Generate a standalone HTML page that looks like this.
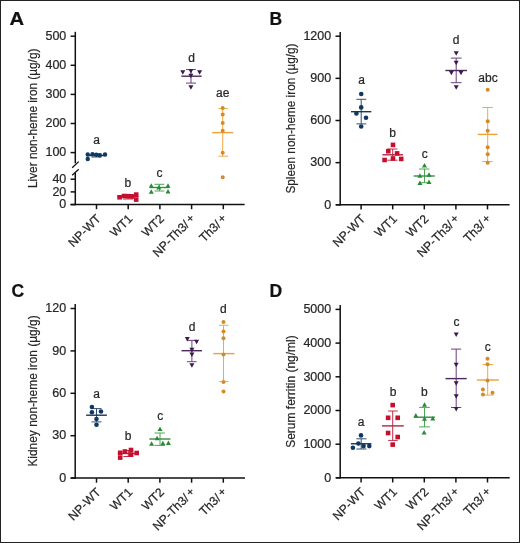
<!DOCTYPE html>
<html><head><meta charset="utf-8"><style>
html,body{margin:0;padding:0;background:#fff;}
body{width:520px;height:543px;overflow:hidden;font-family:"Liberation Sans",sans-serif;}
svg{display:block;will-change:transform;}
text{stroke:#262626;stroke-width:0.22px;paint-order:stroke;}
</style></head><body>
<svg width="520" height="543" viewBox="0 0 520 543" font-family="Liberation Sans, sans-serif">
<rect x="0" y="0" width="520" height="543" fill="#fff"/>
<rect x="0.5" y="0.5" width="519" height="542" fill="none" stroke="#222" stroke-width="1"/>
<text x="9.6" y="24.6" font-size="17.5" font-weight="bold" fill="#111" textLength="14.6" lengthAdjust="spacingAndGlyphs">A</text>
<text x="269.5" y="24.6" font-size="17.5" font-weight="bold" fill="#111">B</text>
<text x="11.5" y="297.2" font-size="17.5" font-weight="bold" fill="#111">C</text>
<text x="269.5" y="297.2" font-size="17.5" font-weight="bold" fill="#111">D</text>
<line x1="75.30" y1="31.80" x2="75.30" y2="163.30" stroke="#111" stroke-width="1.5"/>
<line x1="75.30" y1="172.70" x2="75.30" y2="205.30" stroke="#111" stroke-width="1.5"/>
<line x1="72.20" y1="167.80" x2="78.70" y2="161.60" stroke="#111" stroke-width="1.3"/>
<line x1="72.20" y1="175.20" x2="78.70" y2="169.30" stroke="#111" stroke-width="1.3"/>
<line x1="70.60" y1="36.20" x2="75.30" y2="36.20" stroke="#111" stroke-width="1.5"/>
<text x="66.30" y="39.90" font-size="12.5" text-anchor="end" fill="#262626" >500</text>
<line x1="70.60" y1="65.30" x2="75.30" y2="65.30" stroke="#111" stroke-width="1.5"/>
<text x="66.30" y="69.00" font-size="12.5" text-anchor="end" fill="#262626" >400</text>
<line x1="70.60" y1="94.40" x2="75.30" y2="94.40" stroke="#111" stroke-width="1.5"/>
<text x="66.30" y="98.10" font-size="12.5" text-anchor="end" fill="#262626" >300</text>
<line x1="70.60" y1="123.50" x2="75.30" y2="123.50" stroke="#111" stroke-width="1.5"/>
<text x="66.30" y="127.20" font-size="12.5" text-anchor="end" fill="#262626" >200</text>
<line x1="70.60" y1="152.60" x2="75.30" y2="152.60" stroke="#111" stroke-width="1.5"/>
<text x="66.30" y="156.30" font-size="12.5" text-anchor="end" fill="#262626" >100</text>
<line x1="70.60" y1="179.20" x2="75.30" y2="179.20" stroke="#111" stroke-width="1.5"/>
<text x="66.30" y="182.90" font-size="12.5" text-anchor="end" fill="#262626" >40</text>
<line x1="70.60" y1="191.90" x2="75.30" y2="191.90" stroke="#111" stroke-width="1.5"/>
<text x="66.30" y="195.60" font-size="12.5" text-anchor="end" fill="#262626" >20</text>
<line x1="70.60" y1="204.60" x2="75.30" y2="204.60" stroke="#111" stroke-width="1.5"/>
<text x="66.30" y="208.30" font-size="12.5" text-anchor="end" fill="#262626" >0</text>
<line x1="70.60" y1="204.60" x2="244.60" y2="204.60" stroke="#111" stroke-width="1.5"/>
<line x1="96.50" y1="204.60" x2="96.50" y2="209.20" stroke="#111" stroke-width="1.5"/>
<line x1="128.20" y1="204.60" x2="128.20" y2="209.20" stroke="#111" stroke-width="1.5"/>
<line x1="159.90" y1="204.60" x2="159.90" y2="209.20" stroke="#111" stroke-width="1.5"/>
<line x1="191.60" y1="204.60" x2="191.60" y2="209.20" stroke="#111" stroke-width="1.5"/>
<line x1="223.30" y1="204.60" x2="223.30" y2="209.20" stroke="#111" stroke-width="1.5"/>
<text class="xl" x="0" y="0" font-size="12.2" text-anchor="end" fill="#262626" transform="translate(101.50,219.40) rotate(-45)">NP-WT</text>
<text class="xl" x="0" y="0" font-size="12.2" text-anchor="end" fill="#262626" transform="translate(133.20,219.40) rotate(-45)">WT1</text>
<text class="xl" x="0" y="0" font-size="12.2" text-anchor="end" fill="#262626" transform="translate(164.90,219.40) rotate(-45)">WT2</text>
<text class="xl" x="0" y="0" font-size="12.2" text-anchor="end" fill="#262626" transform="translate(196.00,219.40) rotate(-45)">NP-Th3/<tspan font-size="11.5" dx="2.0" dy="-1.0">+</tspan></text>
<text class="xl" x="0" y="0" font-size="12.2" text-anchor="end" fill="#262626" transform="translate(227.70,219.40) rotate(-45)">Th3/<tspan font-size="11.5" dx="2.0" dy="-1.0">+</tspan></text>
<text class="yl" x="0" y="0" font-size="13.5" text-anchor="middle" fill="#262626" textLength="139.4" lengthAdjust="spacingAndGlyphs" transform="translate(36.90,118.30) rotate(-90)">Liver non-heme iron (µg/g)</text>
<line x1="96.50" y1="154.00" x2="96.50" y2="157.00" stroke="#34506e" stroke-width="1.0"/>
<line x1="91.50" y1="154.00" x2="101.50" y2="154.00" stroke="#34506e" stroke-width="1.0"/>
<line x1="91.50" y1="157.00" x2="101.50" y2="157.00" stroke="#34506e" stroke-width="1.0"/>
<line x1="86.50" y1="155.50" x2="106.50" y2="155.50" stroke="#1f3550" stroke-width="1.4"/>
<circle cx="87.75" cy="154.50" r="2.2" fill="#113863"/>
<circle cx="87.75" cy="159.00" r="2.2" fill="#113863"/>
<circle cx="92.50" cy="154.20" r="2.2" fill="#113863"/>
<circle cx="96.30" cy="154.80" r="2.2" fill="#113863"/>
<circle cx="99.80" cy="155.20" r="2.2" fill="#113863"/>
<circle cx="105.00" cy="154.50" r="2.2" fill="#113863"/>
<line x1="128.00" y1="194.50" x2="128.00" y2="199.00" stroke="#c42a4a" stroke-width="1.0"/>
<line x1="123.00" y1="194.50" x2="133.00" y2="194.50" stroke="#c42a4a" stroke-width="1.0"/>
<line x1="123.00" y1="199.00" x2="133.00" y2="199.00" stroke="#c42a4a" stroke-width="1.0"/>
<line x1="117.50" y1="196.50" x2="138.50" y2="196.50" stroke="#a82a44" stroke-width="1.4"/>
<rect x="117.30" y="195.00" width="4.6" height="4.6" fill="#c60f2e"/>
<rect x="121.70" y="193.70" width="4.6" height="4.6" fill="#c60f2e"/>
<rect x="125.70" y="193.90" width="4.6" height="4.6" fill="#c60f2e"/>
<rect x="129.70" y="194.20" width="4.6" height="4.6" fill="#c60f2e"/>
<rect x="133.90" y="192.30" width="4.6" height="4.6" fill="#c60f2e"/>
<rect x="133.90" y="197.30" width="4.6" height="4.6" fill="#c60f2e"/>
<line x1="159.50" y1="184.30" x2="159.50" y2="191.00" stroke="#4aa852" stroke-width="1.0"/>
<line x1="154.50" y1="184.30" x2="164.30" y2="184.30" stroke="#4aa852" stroke-width="1.0"/>
<line x1="154.50" y1="191.00" x2="164.30" y2="191.00" stroke="#4aa852" stroke-width="1.0"/>
<line x1="149.90" y1="187.50" x2="169.20" y2="187.50" stroke="#3c8a46" stroke-width="1.4"/>
<path d="M148.80,187.85L153.80,187.85L151.30,183.35Z" fill="#2a8a38"/>
<path d="M148.80,193.65L153.80,193.65L151.30,189.15Z" fill="#2a8a38"/>
<path d="M156.30,189.45L161.30,189.45L158.80,184.95Z" fill="#2a8a38"/>
<path d="M165.50,187.85L170.50,187.85L168.00,183.35Z" fill="#2a8a38"/>
<path d="M165.50,193.45L170.50,193.45L168.00,188.95Z" fill="#2a8a38"/>
<line x1="191.00" y1="69.60" x2="191.00" y2="83.10" stroke="#6a3f7c" stroke-width="1.0"/>
<line x1="186.00" y1="69.60" x2="196.00" y2="69.60" stroke="#6a3f7c" stroke-width="1.0"/>
<line x1="186.00" y1="83.10" x2="196.00" y2="83.10" stroke="#6a3f7c" stroke-width="1.0"/>
<line x1="181.40" y1="76.20" x2="201.60" y2="76.20" stroke="#4a2a5a" stroke-width="1.4"/>
<path d="M180.30,70.35L185.30,70.35L182.80,74.85Z" fill="#3a1b4b"/>
<path d="M188.40,68.95L193.40,68.95L190.90,73.45Z" fill="#3a1b4b"/>
<path d="M197.10,70.35L202.10,70.35L199.60,74.85Z" fill="#3a1b4b"/>
<path d="M188.40,73.75L193.40,73.75L190.90,78.25Z" fill="#3a1b4b"/>
<path d="M188.40,85.15L193.40,85.15L190.90,89.65Z" fill="#3a1b4b"/>
<line x1="222.70" y1="108.60" x2="222.70" y2="156.20" stroke="#f3a847" stroke-width="1.0"/>
<line x1="218.40" y1="108.60" x2="228.00" y2="108.60" stroke="#f3a847" stroke-width="1.0"/>
<line x1="218.40" y1="156.20" x2="228.00" y2="156.20" stroke="#f3a847" stroke-width="1.0"/>
<line x1="212.20" y1="132.60" x2="233.20" y2="132.60" stroke="#eea03a" stroke-width="1.4"/>
<circle cx="222.70" cy="108.00" r="2.0" fill="#d48a28"/>
<circle cx="222.70" cy="114.60" r="2.0" fill="#d48a28"/>
<circle cx="222.70" cy="123.00" r="2.0" fill="#d48a28"/>
<circle cx="222.70" cy="130.80" r="2.0" fill="#d48a28"/>
<circle cx="222.70" cy="152.70" r="2.0" fill="#d48a28"/>
<circle cx="222.70" cy="177.20" r="2.0" fill="#d48a28"/>
<text x="96.50" y="144.40" font-size="12" text-anchor="middle" fill="#262626" >a</text>
<text x="127.80" y="187.40" font-size="12" text-anchor="middle" fill="#262626" >b</text>
<text x="159.50" y="177.30" font-size="12" text-anchor="middle" fill="#262626" >c</text>
<text x="191.50" y="61.80" font-size="12" text-anchor="middle" fill="#262626" >d</text>
<text x="222.80" y="97.40" font-size="12" text-anchor="middle" fill="#262626" >ae</text>
<line x1="340.20" y1="31.90" x2="340.20" y2="205.50" stroke="#111" stroke-width="1.5"/>
<line x1="335.50" y1="36.20" x2="340.20" y2="36.20" stroke="#111" stroke-width="1.5"/>
<text x="331.20" y="39.90" font-size="12.5" text-anchor="end" fill="#262626" >1200</text>
<line x1="335.50" y1="78.35" x2="340.20" y2="78.35" stroke="#111" stroke-width="1.5"/>
<text x="331.20" y="82.05" font-size="12.5" text-anchor="end" fill="#262626" >900</text>
<line x1="335.50" y1="120.50" x2="340.20" y2="120.50" stroke="#111" stroke-width="1.5"/>
<text x="331.20" y="124.20" font-size="12.5" text-anchor="end" fill="#262626" >600</text>
<line x1="335.50" y1="162.65" x2="340.20" y2="162.65" stroke="#111" stroke-width="1.5"/>
<text x="331.20" y="166.35" font-size="12.5" text-anchor="end" fill="#262626" >300</text>
<line x1="335.50" y1="204.80" x2="340.20" y2="204.80" stroke="#111" stroke-width="1.5"/>
<text x="331.20" y="208.50" font-size="12.5" text-anchor="end" fill="#262626" >0</text>
<line x1="336.00" y1="204.80" x2="509.60" y2="204.80" stroke="#111" stroke-width="1.5"/>
<line x1="361.10" y1="204.80" x2="361.10" y2="209.40" stroke="#111" stroke-width="1.5"/>
<line x1="392.70" y1="204.80" x2="392.70" y2="209.40" stroke="#111" stroke-width="1.5"/>
<line x1="424.30" y1="204.80" x2="424.30" y2="209.40" stroke="#111" stroke-width="1.5"/>
<line x1="455.90" y1="204.80" x2="455.90" y2="209.40" stroke="#111" stroke-width="1.5"/>
<line x1="487.50" y1="204.80" x2="487.50" y2="209.40" stroke="#111" stroke-width="1.5"/>
<text class="xl" x="0" y="0" font-size="12.2" text-anchor="end" fill="#262626" transform="translate(366.10,219.60) rotate(-45)">NP-WT</text>
<text class="xl" x="0" y="0" font-size="12.2" text-anchor="end" fill="#262626" transform="translate(397.70,219.60) rotate(-45)">WT1</text>
<text class="xl" x="0" y="0" font-size="12.2" text-anchor="end" fill="#262626" transform="translate(429.30,219.60) rotate(-45)">WT2</text>
<text class="xl" x="0" y="0" font-size="12.2" text-anchor="end" fill="#262626" transform="translate(460.30,219.60) rotate(-45)">NP-Th3/<tspan font-size="11.5" dx="2.0" dy="-1.0">+</tspan></text>
<text class="xl" x="0" y="0" font-size="12.2" text-anchor="end" fill="#262626" transform="translate(491.90,219.60) rotate(-45)">Th3/<tspan font-size="11.5" dx="2.0" dy="-1.0">+</tspan></text>
<text class="yl" x="0" y="0" font-size="13.5" text-anchor="middle" fill="#262626" textLength="150.1" lengthAdjust="spacingAndGlyphs" transform="translate(295.20,118.55) rotate(-90)">Spleen non-heme iron (µg/g)</text>
<line x1="361.20" y1="99.30" x2="361.20" y2="123.90" stroke="#34506e" stroke-width="1.0"/>
<line x1="356.40" y1="99.30" x2="366.30" y2="99.30" stroke="#34506e" stroke-width="1.0"/>
<line x1="356.40" y1="123.90" x2="366.30" y2="123.90" stroke="#34506e" stroke-width="1.0"/>
<line x1="351.00" y1="111.70" x2="371.30" y2="111.70" stroke="#1f3550" stroke-width="1.4"/>
<circle cx="361.20" cy="94.00" r="2.3" fill="#113863"/>
<circle cx="361.20" cy="107.40" r="2.3" fill="#113863"/>
<circle cx="356.40" cy="113.40" r="2.3" fill="#113863"/>
<circle cx="366.00" cy="117.70" r="2.3" fill="#113863"/>
<circle cx="361.20" cy="126.50" r="2.3" fill="#113863"/>
<line x1="392.70" y1="149.00" x2="392.70" y2="160.20" stroke="#c42a4a" stroke-width="1.0"/>
<line x1="387.20" y1="149.00" x2="397.50" y2="149.00" stroke="#c42a4a" stroke-width="1.0"/>
<line x1="387.20" y1="160.20" x2="397.50" y2="160.20" stroke="#c42a4a" stroke-width="1.0"/>
<line x1="382.40" y1="154.80" x2="403.00" y2="154.80" stroke="#a82a44" stroke-width="1.4"/>
<rect x="390.70" y="142.60" width="4.6" height="4.6" fill="#c60f2e"/>
<rect x="386.00" y="148.90" width="4.6" height="4.6" fill="#c60f2e"/>
<rect x="394.80" y="151.10" width="4.6" height="4.6" fill="#c60f2e"/>
<rect x="382.30" y="157.70" width="4.6" height="4.6" fill="#c60f2e"/>
<rect x="390.70" y="156.20" width="4.6" height="4.6" fill="#c60f2e"/>
<rect x="398.90" y="156.60" width="4.6" height="4.6" fill="#c60f2e"/>
<line x1="424.50" y1="169.00" x2="424.50" y2="182.70" stroke="#4aa852" stroke-width="1.0"/>
<line x1="419.10" y1="169.00" x2="429.40" y2="169.00" stroke="#4aa852" stroke-width="1.0"/>
<line x1="419.10" y1="182.70" x2="429.40" y2="182.70" stroke="#4aa852" stroke-width="1.0"/>
<line x1="413.70" y1="176.00" x2="434.80" y2="176.00" stroke="#3c8a46" stroke-width="1.4"/>
<path d="M422.00,167.55L427.00,167.55L424.50,163.05Z" fill="#2a8a38"/>
<path d="M417.40,177.85L422.40,177.85L419.90,173.35Z" fill="#2a8a38"/>
<path d="M426.50,176.65L431.50,176.65L429.00,172.15Z" fill="#2a8a38"/>
<path d="M417.40,184.95L422.40,184.95L419.90,180.45Z" fill="#2a8a38"/>
<path d="M426.50,184.05L431.50,184.05L429.00,179.55Z" fill="#2a8a38"/>
<line x1="456.20" y1="58.10" x2="456.20" y2="82.70" stroke="#6a3f7c" stroke-width="1.0"/>
<line x1="450.80" y1="58.10" x2="461.60" y2="58.10" stroke="#6a3f7c" stroke-width="1.0"/>
<line x1="450.80" y1="82.70" x2="461.60" y2="82.70" stroke="#6a3f7c" stroke-width="1.0"/>
<line x1="445.40" y1="70.50" x2="467.00" y2="70.50" stroke="#4a2a5a" stroke-width="1.4"/>
<path d="M453.70,51.15L458.70,51.15L456.20,55.65Z" fill="#3a1b4b"/>
<path d="M453.70,60.65L458.70,60.65L456.20,65.15Z" fill="#3a1b4b"/>
<path d="M448.90,70.85L453.90,70.85L451.40,75.35Z" fill="#3a1b4b"/>
<path d="M458.50,70.85L463.50,70.85L461.00,75.35Z" fill="#3a1b4b"/>
<path d="M453.70,85.25L458.70,85.25L456.20,89.75Z" fill="#3a1b4b"/>
<line x1="487.70" y1="107.50" x2="487.70" y2="161.60" stroke="#f3a847" stroke-width="1.0"/>
<line x1="482.20" y1="107.50" x2="492.80" y2="107.50" stroke="#f3a847" stroke-width="1.0"/>
<line x1="482.20" y1="161.60" x2="492.80" y2="161.60" stroke="#f3a847" stroke-width="1.0"/>
<line x1="477.70" y1="134.40" x2="497.60" y2="134.40" stroke="#eea03a" stroke-width="1.4"/>
<circle cx="487.70" cy="89.80" r="2.0" fill="#d48a28"/>
<circle cx="487.70" cy="121.20" r="2.0" fill="#d48a28"/>
<circle cx="487.70" cy="130.70" r="2.0" fill="#d48a28"/>
<circle cx="487.70" cy="147.20" r="2.0" fill="#d48a28"/>
<circle cx="487.70" cy="154.30" r="2.0" fill="#d48a28"/>
<circle cx="487.70" cy="162.70" r="2.0" fill="#d48a28"/>
<text x="361.50" y="84.40" font-size="12" text-anchor="middle" fill="#262626" >a</text>
<text x="392.60" y="137.00" font-size="12" text-anchor="middle" fill="#262626" >b</text>
<text x="424.70" y="158.00" font-size="12" text-anchor="middle" fill="#262626" >c</text>
<text x="456.20" y="43.80" font-size="12" text-anchor="middle" fill="#262626" >d</text>
<text x="488.00" y="81.60" font-size="12" text-anchor="middle" fill="#262626" >abc</text>
<line x1="75.20" y1="304.00" x2="75.20" y2="478.80" stroke="#111" stroke-width="1.5"/>
<line x1="70.50" y1="308.50" x2="75.20" y2="308.50" stroke="#111" stroke-width="1.5"/>
<text x="66.20" y="312.20" font-size="12.5" text-anchor="end" fill="#262626" >120</text>
<line x1="70.50" y1="350.90" x2="75.20" y2="350.90" stroke="#111" stroke-width="1.5"/>
<text x="66.20" y="354.60" font-size="12.5" text-anchor="end" fill="#262626" >90</text>
<line x1="70.50" y1="393.30" x2="75.20" y2="393.30" stroke="#111" stroke-width="1.5"/>
<text x="66.20" y="397.00" font-size="12.5" text-anchor="end" fill="#262626" >60</text>
<line x1="70.50" y1="435.70" x2="75.20" y2="435.70" stroke="#111" stroke-width="1.5"/>
<text x="66.20" y="439.40" font-size="12.5" text-anchor="end" fill="#262626" >30</text>
<line x1="70.50" y1="478.10" x2="75.20" y2="478.10" stroke="#111" stroke-width="1.5"/>
<text x="66.20" y="481.80" font-size="12.5" text-anchor="end" fill="#262626" >0</text>
<line x1="70.80" y1="478.10" x2="245.00" y2="478.10" stroke="#111" stroke-width="1.5"/>
<line x1="96.50" y1="478.10" x2="96.50" y2="482.70" stroke="#111" stroke-width="1.5"/>
<line x1="128.20" y1="478.10" x2="128.20" y2="482.70" stroke="#111" stroke-width="1.5"/>
<line x1="159.90" y1="478.10" x2="159.90" y2="482.70" stroke="#111" stroke-width="1.5"/>
<line x1="191.60" y1="478.10" x2="191.60" y2="482.70" stroke="#111" stroke-width="1.5"/>
<line x1="223.30" y1="478.10" x2="223.30" y2="482.70" stroke="#111" stroke-width="1.5"/>
<text class="xl" x="0" y="0" font-size="12.2" text-anchor="end" fill="#262626" transform="translate(101.50,492.90) rotate(-45)">NP-WT</text>
<text class="xl" x="0" y="0" font-size="12.2" text-anchor="end" fill="#262626" transform="translate(133.20,492.90) rotate(-45)">WT1</text>
<text class="xl" x="0" y="0" font-size="12.2" text-anchor="end" fill="#262626" transform="translate(164.90,492.90) rotate(-45)">WT2</text>
<text class="xl" x="0" y="0" font-size="12.2" text-anchor="end" fill="#262626" transform="translate(196.00,492.90) rotate(-45)">NP-Th3/<tspan font-size="11.5" dx="2.0" dy="-1.0">+</tspan></text>
<text class="xl" x="0" y="0" font-size="12.2" text-anchor="end" fill="#262626" transform="translate(227.70,492.90) rotate(-45)">Th3/<tspan font-size="11.5" dx="2.0" dy="-1.0">+</tspan></text>
<text class="yl" x="0" y="0" font-size="13.5" text-anchor="middle" fill="#262626" textLength="151.2" lengthAdjust="spacingAndGlyphs" transform="translate(36.90,391.00) rotate(-90)">Kidney non-heme iron (µg/g)</text>
<line x1="96.50" y1="408.60" x2="96.50" y2="421.90" stroke="#34506e" stroke-width="1.0"/>
<line x1="91.50" y1="408.60" x2="101.50" y2="408.60" stroke="#34506e" stroke-width="1.0"/>
<line x1="91.50" y1="421.90" x2="101.50" y2="421.90" stroke="#34506e" stroke-width="1.0"/>
<line x1="86.10" y1="415.20" x2="106.90" y2="415.20" stroke="#1f3550" stroke-width="1.4"/>
<circle cx="91.90" cy="407.00" r="2.3" fill="#113863"/>
<circle cx="91.90" cy="412.30" r="2.3" fill="#113863"/>
<circle cx="101.00" cy="411.50" r="2.3" fill="#113863"/>
<circle cx="96.50" cy="419.00" r="2.3" fill="#113863"/>
<circle cx="96.50" cy="424.80" r="2.3" fill="#113863"/>
<line x1="128.30" y1="450.50" x2="128.30" y2="456.50" stroke="#c42a4a" stroke-width="1.0"/>
<line x1="123.30" y1="450.50" x2="133.30" y2="450.50" stroke="#c42a4a" stroke-width="1.0"/>
<line x1="123.30" y1="456.50" x2="133.30" y2="456.50" stroke="#c42a4a" stroke-width="1.0"/>
<line x1="117.80" y1="453.50" x2="138.80" y2="453.50" stroke="#a82a44" stroke-width="1.4"/>
<rect x="117.90" y="450.50" width="4.6" height="4.6" fill="#c60f2e"/>
<rect x="117.90" y="455.30" width="4.6" height="4.6" fill="#c60f2e"/>
<rect x="122.60" y="449.20" width="4.6" height="4.6" fill="#c60f2e"/>
<rect x="128.70" y="447.70" width="4.6" height="4.6" fill="#c60f2e"/>
<rect x="128.70" y="452.30" width="4.6" height="4.6" fill="#c60f2e"/>
<rect x="134.40" y="450.70" width="4.6" height="4.6" fill="#c60f2e"/>
<line x1="160.00" y1="433.00" x2="160.00" y2="445.40" stroke="#4aa852" stroke-width="1.0"/>
<line x1="154.50" y1="433.00" x2="164.90" y2="433.00" stroke="#4aa852" stroke-width="1.0"/>
<line x1="154.50" y1="445.40" x2="164.90" y2="445.40" stroke="#4aa852" stroke-width="1.0"/>
<line x1="149.30" y1="439.00" x2="170.40" y2="439.00" stroke="#3c8a46" stroke-width="1.4"/>
<path d="M157.50,430.95L162.50,430.95L160.00,426.45Z" fill="#2a8a38"/>
<path d="M154.60,440.15L159.60,440.15L157.10,435.65Z" fill="#2a8a38"/>
<path d="M149.10,445.65L154.10,445.65L151.60,441.15Z" fill="#2a8a38"/>
<path d="M160.40,445.35L165.40,445.35L162.90,440.85Z" fill="#2a8a38"/>
<path d="M165.90,445.05L170.90,445.05L168.40,440.55Z" fill="#2a8a38"/>
<line x1="191.90" y1="340.40" x2="191.90" y2="361.70" stroke="#6a3f7c" stroke-width="1.0"/>
<line x1="186.90" y1="340.40" x2="196.60" y2="340.40" stroke="#6a3f7c" stroke-width="1.0"/>
<line x1="186.90" y1="361.70" x2="196.60" y2="361.70" stroke="#6a3f7c" stroke-width="1.0"/>
<line x1="181.50" y1="350.70" x2="202.00" y2="350.70" stroke="#4a2a5a" stroke-width="1.4"/>
<path d="M184.80,337.05L189.80,337.05L187.30,341.55Z" fill="#3a1b4b"/>
<path d="M194.10,339.75L199.10,339.75L196.60,344.25Z" fill="#3a1b4b"/>
<path d="M189.40,347.75L194.40,347.75L191.90,352.25Z" fill="#3a1b4b"/>
<path d="M189.40,352.45L194.40,352.45L191.90,356.95Z" fill="#3a1b4b"/>
<path d="M189.40,363.35L194.40,363.35L191.90,367.85Z" fill="#3a1b4b"/>
<line x1="223.50" y1="325.30" x2="223.50" y2="381.60" stroke="#f3a847" stroke-width="1.0"/>
<line x1="219.00" y1="325.30" x2="228.60" y2="325.30" stroke="#f3a847" stroke-width="1.0"/>
<line x1="219.00" y1="381.60" x2="228.60" y2="381.60" stroke="#f3a847" stroke-width="1.0"/>
<line x1="213.20" y1="353.60" x2="234.50" y2="353.60" stroke="#eea03a" stroke-width="1.4"/>
<circle cx="223.50" cy="322.10" r="2.0" fill="#d48a28"/>
<circle cx="223.50" cy="331.50" r="2.0" fill="#d48a28"/>
<circle cx="223.50" cy="338.30" r="2.0" fill="#d48a28"/>
<circle cx="223.50" cy="354.50" r="2.0" fill="#d48a28"/>
<circle cx="223.50" cy="382.00" r="2.0" fill="#d48a28"/>
<circle cx="223.50" cy="391.60" r="2.0" fill="#d48a28"/>
<text x="96.70" y="398.00" font-size="12" text-anchor="middle" fill="#262626" >a</text>
<text x="128.10" y="440.40" font-size="12" text-anchor="middle" fill="#262626" >b</text>
<text x="160.30" y="420.00" font-size="12" text-anchor="middle" fill="#262626" >c</text>
<text x="192.00" y="331.10" font-size="12" text-anchor="middle" fill="#262626" >d</text>
<text x="223.30" y="313.30" font-size="12" text-anchor="middle" fill="#262626" >d</text>
<line x1="340.20" y1="305.00" x2="340.20" y2="478.50" stroke="#111" stroke-width="1.5"/>
<line x1="335.50" y1="309.40" x2="340.20" y2="309.40" stroke="#111" stroke-width="1.5"/>
<text x="331.20" y="313.10" font-size="12.5" text-anchor="end" fill="#262626" >5000</text>
<line x1="335.50" y1="343.10" x2="340.20" y2="343.10" stroke="#111" stroke-width="1.5"/>
<text x="331.20" y="346.80" font-size="12.5" text-anchor="end" fill="#262626" >4000</text>
<line x1="335.50" y1="376.80" x2="340.20" y2="376.80" stroke="#111" stroke-width="1.5"/>
<text x="331.20" y="380.50" font-size="12.5" text-anchor="end" fill="#262626" >3000</text>
<line x1="335.50" y1="410.50" x2="340.20" y2="410.50" stroke="#111" stroke-width="1.5"/>
<text x="331.20" y="414.20" font-size="12.5" text-anchor="end" fill="#262626" >2000</text>
<line x1="335.50" y1="444.20" x2="340.20" y2="444.20" stroke="#111" stroke-width="1.5"/>
<text x="331.20" y="447.90" font-size="12.5" text-anchor="end" fill="#262626" >1000</text>
<line x1="335.50" y1="477.85" x2="340.20" y2="477.85" stroke="#111" stroke-width="1.5"/>
<text x="331.20" y="481.55" font-size="12.5" text-anchor="end" fill="#262626" >0</text>
<line x1="336.00" y1="477.85" x2="509.70" y2="477.85" stroke="#111" stroke-width="1.5"/>
<line x1="361.10" y1="477.85" x2="361.10" y2="482.45" stroke="#111" stroke-width="1.5"/>
<line x1="392.70" y1="477.85" x2="392.70" y2="482.45" stroke="#111" stroke-width="1.5"/>
<line x1="424.30" y1="477.85" x2="424.30" y2="482.45" stroke="#111" stroke-width="1.5"/>
<line x1="455.90" y1="477.85" x2="455.90" y2="482.45" stroke="#111" stroke-width="1.5"/>
<line x1="487.50" y1="477.85" x2="487.50" y2="482.45" stroke="#111" stroke-width="1.5"/>
<text class="xl" x="0" y="0" font-size="12.2" text-anchor="end" fill="#262626" transform="translate(366.10,492.65) rotate(-45)">NP-WT</text>
<text class="xl" x="0" y="0" font-size="12.2" text-anchor="end" fill="#262626" transform="translate(397.70,492.65) rotate(-45)">WT1</text>
<text class="xl" x="0" y="0" font-size="12.2" text-anchor="end" fill="#262626" transform="translate(429.30,492.65) rotate(-45)">WT2</text>
<text class="xl" x="0" y="0" font-size="12.2" text-anchor="end" fill="#262626" transform="translate(460.30,492.65) rotate(-45)">NP-Th3/<tspan font-size="11.5" dx="2.0" dy="-1.0">+</tspan></text>
<text class="xl" x="0" y="0" font-size="12.2" text-anchor="end" fill="#262626" transform="translate(491.90,492.65) rotate(-45)">Th3/<tspan font-size="11.5" dx="2.0" dy="-1.0">+</tspan></text>
<text class="yl" x="0" y="0" font-size="13.5" text-anchor="middle" fill="#262626" textLength="112.5" lengthAdjust="spacingAndGlyphs" transform="translate(295.00,391.55) rotate(-90)">Serum ferritin (ng/ml)</text>
<line x1="361.20" y1="438.80" x2="361.20" y2="449.00" stroke="#34506e" stroke-width="1.0"/>
<line x1="356.40" y1="438.80" x2="366.50" y2="438.80" stroke="#34506e" stroke-width="1.0"/>
<line x1="356.40" y1="449.00" x2="366.50" y2="449.00" stroke="#34506e" stroke-width="1.0"/>
<line x1="350.90" y1="443.75" x2="371.40" y2="443.75" stroke="#1f3550" stroke-width="1.4"/>
<circle cx="361.00" cy="435.40" r="2.3" fill="#113863"/>
<circle cx="358.40" cy="443.50" r="2.3" fill="#113863"/>
<circle cx="352.90" cy="447.80" r="2.3" fill="#113863"/>
<circle cx="363.60" cy="446.10" r="2.3" fill="#113863"/>
<circle cx="369.30" cy="446.10" r="2.3" fill="#113863"/>
<line x1="392.70" y1="411.00" x2="392.70" y2="440.40" stroke="#c42a4a" stroke-width="1.0"/>
<line x1="388.10" y1="411.00" x2="397.70" y2="411.00" stroke="#c42a4a" stroke-width="1.0"/>
<line x1="388.10" y1="440.40" x2="397.70" y2="440.40" stroke="#c42a4a" stroke-width="1.0"/>
<line x1="382.00" y1="425.90" x2="403.80" y2="425.90" stroke="#a82a44" stroke-width="1.4"/>
<rect x="390.40" y="402.80" width="4.6" height="4.6" fill="#c60f2e"/>
<rect x="385.80" y="415.50" width="4.6" height="4.6" fill="#c60f2e"/>
<rect x="395.40" y="415.50" width="4.6" height="4.6" fill="#c60f2e"/>
<rect x="385.80" y="430.70" width="4.6" height="4.6" fill="#c60f2e"/>
<rect x="395.40" y="434.70" width="4.6" height="4.6" fill="#c60f2e"/>
<rect x="390.40" y="442.30" width="4.6" height="4.6" fill="#c60f2e"/>
<line x1="424.50" y1="407.40" x2="424.50" y2="426.90" stroke="#4aa852" stroke-width="1.0"/>
<line x1="419.10" y1="407.40" x2="429.90" y2="407.40" stroke="#4aa852" stroke-width="1.0"/>
<line x1="419.10" y1="426.90" x2="429.90" y2="426.90" stroke="#4aa852" stroke-width="1.0"/>
<line x1="414.10" y1="417.20" x2="434.90" y2="417.20" stroke="#3c8a46" stroke-width="1.4"/>
<path d="M422.00,406.75L427.00,406.75L424.50,402.25Z" fill="#2a8a38"/>
<path d="M413.30,417.55L418.30,417.55L415.80,413.05Z" fill="#2a8a38"/>
<path d="M422.00,420.85L427.00,420.85L424.50,416.35Z" fill="#2a8a38"/>
<path d="M430.30,420.45L435.30,420.45L432.80,415.95Z" fill="#2a8a38"/>
<path d="M421.60,434.55L426.60,434.55L424.10,430.05Z" fill="#2a8a38"/>
<line x1="456.20" y1="349.10" x2="456.20" y2="407.50" stroke="#6a3f7c" stroke-width="1.0"/>
<line x1="451.00" y1="349.10" x2="461.20" y2="349.10" stroke="#6a3f7c" stroke-width="1.0"/>
<line x1="451.00" y1="407.50" x2="461.20" y2="407.50" stroke="#6a3f7c" stroke-width="1.0"/>
<line x1="445.50" y1="378.60" x2="466.70" y2="378.60" stroke="#4a2a5a" stroke-width="1.4"/>
<path d="M453.70,332.45L458.70,332.45L456.20,336.95Z" fill="#3a1b4b"/>
<path d="M453.70,362.85L458.70,362.85L456.20,367.35Z" fill="#3a1b4b"/>
<path d="M453.70,381.25L458.70,381.25L456.20,385.75Z" fill="#3a1b4b"/>
<path d="M453.70,394.15L458.70,394.15L456.20,398.65Z" fill="#3a1b4b"/>
<path d="M453.70,407.05L458.70,407.05L456.20,411.55Z" fill="#3a1b4b"/>
<line x1="487.70" y1="364.60" x2="487.70" y2="395.10" stroke="#f3a847" stroke-width="1.0"/>
<line x1="482.40" y1="364.60" x2="493.40" y2="364.60" stroke="#f3a847" stroke-width="1.0"/>
<line x1="482.40" y1="395.10" x2="493.40" y2="395.10" stroke="#f3a847" stroke-width="1.0"/>
<line x1="476.80" y1="380.00" x2="498.90" y2="380.00" stroke="#eea03a" stroke-width="1.4"/>
<circle cx="487.50" cy="358.70" r="2.0" fill="#d48a28"/>
<circle cx="487.50" cy="364.20" r="2.0" fill="#d48a28"/>
<circle cx="487.50" cy="380.40" r="2.0" fill="#d48a28"/>
<circle cx="482.90" cy="389.60" r="2.0" fill="#d48a28"/>
<circle cx="482.90" cy="394.60" r="2.0" fill="#d48a28"/>
<circle cx="492.50" cy="392.70" r="2.0" fill="#d48a28"/>
<text x="361.20" y="425.90" font-size="12" text-anchor="middle" fill="#262626" >a</text>
<text x="393.10" y="396.20" font-size="12" text-anchor="middle" fill="#262626" >b</text>
<text x="424.40" y="396.20" font-size="12" text-anchor="middle" fill="#262626" >b</text>
<text x="456.40" y="326.20" font-size="12" text-anchor="middle" fill="#262626" >c</text>
<text x="487.80" y="351.00" font-size="12" text-anchor="middle" fill="#262626" >c</text>
</svg>
</body></html>
